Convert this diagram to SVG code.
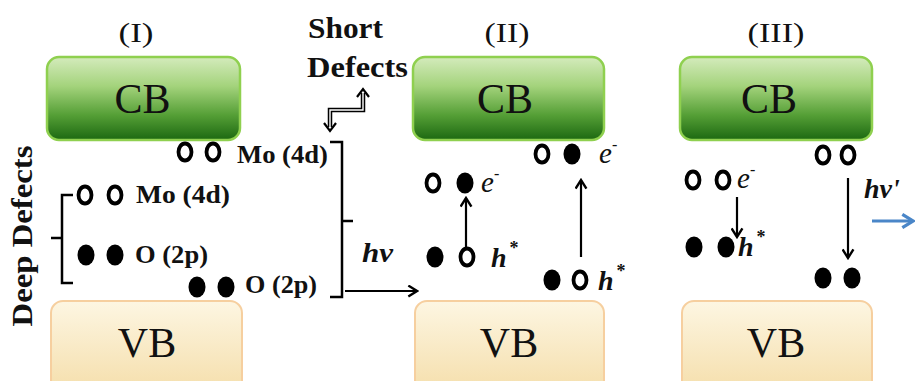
<svg xmlns="http://www.w3.org/2000/svg" width="915" height="381" viewBox="0 0 915 381" font-family="'Liberation Serif', 'Times New Roman', serif">
<defs>
<linearGradient id="gCB" x1="0" y1="0" x2="0" y2="1">
<stop offset="0" stop-color="#d4ebbc"/>
<stop offset="0.35" stop-color="#a4d37c"/>
<stop offset="0.7" stop-color="#559f36"/>
<stop offset="1" stop-color="#1c6811"/>
</linearGradient>
<linearGradient id="gVB" x1="0" y1="0" x2="0" y2="1">
<stop offset="0" stop-color="#fdf6e2"/>
<stop offset="1" stop-color="#f4dca6"/>
</linearGradient>
<marker id="ah" viewBox="0 0 12 12" refX="10" refY="6" markerWidth="13" markerHeight="13" markerUnits="userSpaceOnUse" orient="auto">
<path d="M2,1 L10,6 L2,11" fill="none" stroke="#000" stroke-width="2.2"/>
</marker>
<marker id="ahb" viewBox="0 0 12 12" refX="10" refY="6" markerWidth="16" markerHeight="16" markerUnits="userSpaceOnUse" orient="auto">
<path d="M2,1 L10,6 L2,11" fill="none" stroke="#4a86c8" stroke-width="2.4"/>
</marker>
</defs>
<style>
text{font-family:'Liberation Serif','Times New Roman',serif}
.cb{fill:url(#gCB);stroke:#8fd04f;stroke-width:2.5}
.vb{fill:url(#gVB);stroke:#f6cf9f;stroke-width:2}
.band{font-size:42px;fill:#111;text-anchor:middle}
.num{font-size:28px;fill:#111;text-anchor:middle}
.lbl{font-weight:bold;font-size:25px;fill:#111}
.big{font-weight:bold;font-size:29px;fill:#111}
.it{font-weight:bold;font-style:italic;font-size:28px;fill:#111}
.ite{font-style:italic;font-size:29px;fill:#111}
.op{fill:#fff;stroke:#000;stroke-width:3.8}
.fl{fill:#000}
.ln{fill:none;stroke:#000;stroke-width:2.2}
.br{fill:none;stroke:#000;stroke-width:2.5}
</style>

<g id="panel-I">
<text class="num" x="136" y="42" textLength="35" lengthAdjust="spacingAndGlyphs">(I)</text>
<g id="cb1"><rect class="cb" x="47" y="57" width="193" height="83" rx="12"/><text class="band" x="142.5" y="113">CB</text></g>
<g id="vb1"><rect class="vb" x="51" y="301" width="191" height="100" rx="12"/><text class="band" x="147" y="357">VB</text></g>
</g>

<g id="panel-II">
<text class="num" x="507" y="42" textLength="45" lengthAdjust="spacingAndGlyphs">(II)</text>
<g id="cb2"><rect class="cb" x="413" y="57" width="191" height="83" rx="12"/><text class="band" x="505" y="113">CB</text></g>
<g id="vb2"><rect class="vb" x="415" y="301" width="189" height="100" rx="12"/><text class="band" x="509" y="357">VB</text></g>
</g>

<g id="panel-III">
<text class="num" x="776" y="42" textLength="57" lengthAdjust="spacingAndGlyphs">(III)</text>
<g id="cb3"><rect class="cb" x="680" y="57" width="192" height="83" rx="12"/><text class="band" x="769" y="113">CB</text></g>
<g id="vb3"><rect class="vb" x="682" y="301" width="190" height="100" rx="12"/><text class="band" x="776" y="357">VB</text></g>
</g>

<g id="deep-defects">
<text class="big" transform="translate(32,236) rotate(-90)" text-anchor="middle" font-size="31" textLength="181" lengthAdjust="spacingAndGlyphs">Deep Defects</text>
<path class="br" d="M73,195 H62 V283 H73 M62,238 H51"/>
<ellipse class="op" cx="85" cy="195" rx="6.5" ry="8.5"/>
<ellipse class="op" cx="115" cy="195" rx="6.5" ry="8.5"/>
<text class="lbl" x="136" y="203" textLength="94" lengthAdjust="spacingAndGlyphs">Mo (4d)</text>
<ellipse class="fl" cx="86" cy="255" rx="8.5" ry="10.5"/>
<ellipse class="fl" cx="115" cy="255" rx="8.5" ry="10.5"/>
<text class="lbl" x="135" y="263" textLength="73" lengthAdjust="spacingAndGlyphs">O (2p)</text>
</g>

<g id="short-defects">
<text class="big" x="308" y="38" textLength="75" lengthAdjust="spacingAndGlyphs">Short</text>
<text class="big" x="307" y="77" textLength="101" lengthAdjust="spacingAndGlyphs">Defects</text>
<ellipse class="op" cx="185" cy="152" rx="6.5" ry="8.5"/>
<ellipse class="op" cx="213" cy="152" rx="6.5" ry="8.5"/>
<text class="lbl" x="237" y="163" textLength="91" lengthAdjust="spacingAndGlyphs">Mo (4d)</text>
<ellipse class="fl" cx="197" cy="287" rx="8.5" ry="10.5"/>
<ellipse class="fl" cx="226" cy="287" rx="8.5" ry="10.5"/>
<text class="lbl" x="245" y="293" textLength="72" lengthAdjust="spacingAndGlyphs">O (2p)</text>
<path class="br" d="M330,142 H342 V297 H330 M342,221 H353"/>
</g>

<g id="states-II">
<ellipse class="op" cx="433" cy="183" rx="6.5" ry="8.5"/>
<ellipse class="fl" cx="465" cy="183" rx="8.5" ry="10.5"/>
<text class="ite" x="481" y="192">e<tspan font-size="16" dy="-13">-</tspan></text>
<ellipse class="fl" cx="435" cy="257" rx="8.5" ry="10.5"/>
<ellipse class="op" cx="467" cy="257" rx="6.5" ry="8.5"/>
<text class="it" x="491" y="267">h<tspan font-size="18" font-style="normal" dx="3" dy="-13">*</tspan></text>
<ellipse class="op" cx="542" cy="154" rx="6.5" ry="8.5"/>
<ellipse class="fl" cx="572" cy="154" rx="8.5" ry="10.5"/>
<text class="ite" x="599" y="163">e<tspan font-size="16" dy="-13">-</tspan></text>
<ellipse class="fl" cx="552" cy="280" rx="8.5" ry="10.5"/>
<ellipse class="op" cx="580" cy="280" rx="6.5" ry="8.5"/>
<text class="it" x="598" y="290">h<tspan font-size="18" font-style="normal" dx="3" dy="-13">*</tspan></text>
</g>

<g id="states-III">
<ellipse class="op" cx="693" cy="180" rx="6.5" ry="8.5"/>
<ellipse class="op" cx="723" cy="180" rx="6.5" ry="8.5"/>
<text class="ite" x="737" y="188">e<tspan font-size="16" dy="-13">-</tspan></text>
<ellipse class="fl" cx="694" cy="247" rx="8.5" ry="10.5"/>
<ellipse class="fl" cx="726" cy="247" rx="8.5" ry="10.5"/>
<text class="it" x="738" y="256">h<tspan font-size="18" font-style="normal" dx="3" dy="-13">*</tspan></text>
<ellipse class="op" cx="823" cy="155" rx="6.5" ry="8.5"/>
<ellipse class="op" cx="848" cy="155" rx="6.5" ry="8.5"/>
<ellipse class="fl" cx="823" cy="278" rx="8.5" ry="10.5"/>
<ellipse class="fl" cx="852" cy="278" rx="8.5" ry="10.5"/>
<text class="it" x="864" y="198">hν'</text>
</g>

<g id="connectors">
<path d="M330,127 V110 H363 V93" fill="none" stroke="#000" stroke-width="4.5"/>
<path d="M330,127 V110 H363 V93" fill="none" stroke="#fff" stroke-width="1.4"/>
<path class="ln" d="M324,123 L330,131 L336,123 M357,97 L363,89 L369,97" stroke-width="2.6"/>
<path class="ln" d="M345,291 H417" marker-end="url(#ah)"/>
<text class="it" x="362" y="262" textLength="31" lengthAdjust="spacingAndGlyphs">hν</text>
<path class="ln" d="M466,249 V198" marker-end="url(#ah)"/>
<path class="ln" d="M581,257 V180" marker-end="url(#ah)"/>
<path class="ln" d="M737,197 V237" marker-end="url(#ah)"/>
<path class="ln" d="M848,178 V258" marker-end="url(#ah)"/>
<path d="M872,221 H913" fill="none" stroke="#4a86c8" stroke-width="3" marker-end="url(#ahb)"/>
</g>
</svg>
